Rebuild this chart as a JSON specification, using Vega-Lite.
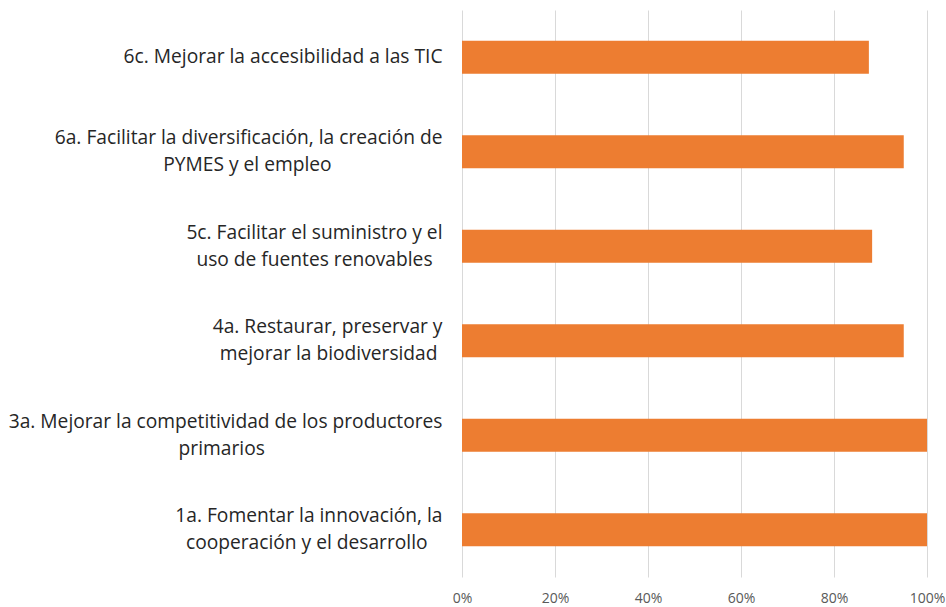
{
  "$schema": "https://vega.github.io/schema/vega-lite/v6.json",
  "autosize": "none",
  "width": 465,
  "height": 567,
  "padding": {"left": 462, "top": 10, "right": 19, "bottom": 30},
  "background": "white",
  "data": {
    "values": [
      {"objetivo": "6c. Mejorar la accesibilidad a las TIC", "valor": 0.875},
      {"objetivo": "6a. Facilitar la diversificación, la creación de|PYMES y el empleo", "valor": 0.95},
      {"objetivo": "5c. Facilitar el suministro y el|uso de fuentes renovables", "valor": 0.882},
      {"objetivo": "4a. Restaurar, preservar y|mejorar la biodiversidad", "valor": 0.95},
      {"objetivo": "3a. Mejorar la competitividad de los productores|primarios", "valor": 1.0},
      {"objetivo": "1a. Fomentar la innovación, la|cooperación y el desarrollo", "valor": 1.0}
    ]
  },
  "mark": {"type": "bar", "color": "#ED7D31"},
  "encoding": {
    "y": {
      "field": "objetivo",
      "type": "nominal",
      "sort": null,
      "scale": {"paddingInner": 0.65, "paddingOuter": 0.325},
      "axis": {
        "title": null,
        "domain": false,
        "ticks": false,
        "labelExpr": "indexof(datum.label, '|') < 0 ? datum.label : [split(datum.label, '|')[0], split(datum.label, '|')[1] + ({'6a': '\u2003\u2003\u2003\u2003\u2003\u00a0\u00a0\u00a0', '5c': '\u00a0\u00a0', '4a': '\u00a0', '3a': '\u2003\u2003\u2003\u2003\u2003\u2003\u2003\u2003\u2003\u00a0', '1a': '\u00a0\u00a0\u00a0'})[substring(datum.label, 0, 2)] + '\u200b']",
        "labelOffset": {"condition": {"test": "indexof(datum.value, '|') >= 0", "value": -13.5}, "value": 0},
        "labelFont": "Open Sans",
        "labelFontSize": 19.2,
        "labelColor": "#262626",
        "labelLineHeight": 27,
        "labelPadding": 20,
        "labelLimit": 0
      }
    },
    "x": {
      "field": "valor",
      "type": "quantitative",
      "scale": {"domain": [0, 1], "nice": false},
      "axis": {
        "title": null,
        "format": "%",
        "values": [0, 0.2, 0.4, 0.6, 0.8, 1.0],
        "domain": false,
        "ticks": false,
        "grid": true,
        "gridColor": "#d9d9d9",
        "gridWidth": 1,
        "labelFlush": false,
        "labelFont": "Open Sans",
        "labelFontSize": 14,
        "labelColor": "#595959",
        "labelPadding": 14
      }
    }
  },
  "config": {"view": {"stroke": null}}
}
